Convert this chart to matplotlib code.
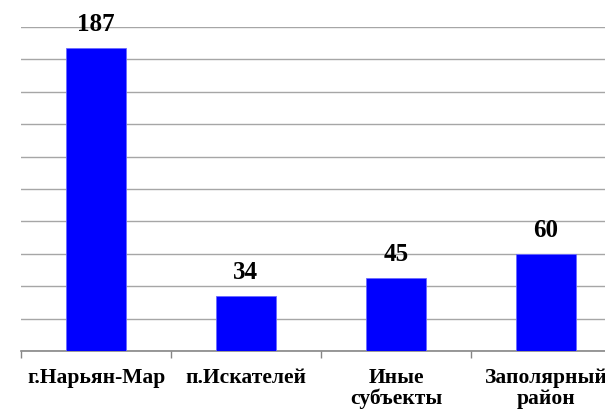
import matplotlib
matplotlib.use("Agg")
import matplotlib.pyplot as plt
import numpy as np

plt.rcParams["font.family"] = "serif"
plt.rcParams["font.serif"] = ["Liberation Serif", "DejaVu Serif"]

categories = ["г.Нарьян-Мар", "п.Искателей", "Иные\nсубъекты", "Заполярный\nрайон"]
values = [187, 34, 45, 60]

fig = plt.figure(figsize=(6.05, 4.12), dpi=100)
ax = fig.add_axes([21 / 605, 1 - 351 / 412, 600 / 605, 324 / 412])

x = np.arange(len(categories))
ax.bar(x, values, width=0.4, color="#0000FF", edgecolor="#6A6AFF", linewidth=0.6, zorder=3)

for xi, v in zip(x, values):
    ax.annotate(str(v), (xi, v), xytext=(0, 12), textcoords="offset points",
                ha="center", va="baseline", fontsize=18, fontweight="bold")

ax.set_xlim(-0.5, len(categories) - 0.5)
ax.set_ylim(0, 200)
ax.set_yticks(np.arange(0, 201, 20))
ax.set_yticklabels([])
ax.tick_params(axis="y", length=0)
ax.yaxis.grid(True, color="#A6A6A6", linewidth=1.0, zorder=0)

ax.set_xticks(x)
ax.set_xticklabels(categories, fontsize=15.5, fontweight="bold",
                   linespacing=1.08, va="top")
ax.tick_params(axis="x", length=0, pad=12)
ax.set_xticks(np.arange(-0.5, len(categories), 1), minor=True)
ax.tick_params(axis="x", which="minor", length=5, color="#868686", width=1)

for side in ["left", "right", "top"]:
    ax.spines[side].set_visible(False)
ax.spines["bottom"].set_color("#868686")
ax.spines["bottom"].set_linewidth(1.2)

fig.savefig("out.png", dpi=100)
